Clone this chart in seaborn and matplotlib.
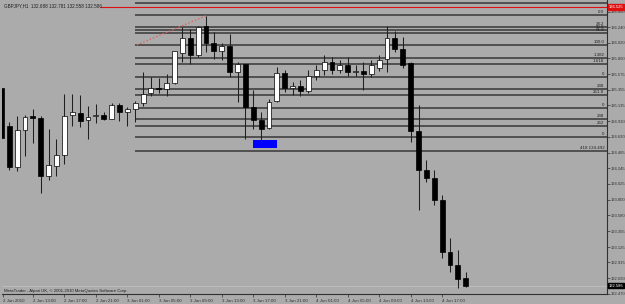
import numpy as np
import pandas as pd
import matplotlib
matplotlib.use("Agg")
import matplotlib.pyplot as plt
import matplotlib.transforms as mtransforms
import seaborn as sns

# ---------------- data ----------------
title_text = "GBPJPY,H1  132.688 132.781 132.558 132.586"
credit_text = "MetaTrader - Alpari UK, \u00a9 2001-2010 MetaQuotes Software Corp."
start_time = "2010-06-02 09:00"

opens = [135.382, 134.845, 134.262, 134.779, 134.977, 134.954, 134.129, 134.280, 134.432, 134.997,
         135.025, 134.926, 134.990, 135.001, 134.940, 135.138, 135.047, 135.081, 135.175, 135.307,
         135.386, 135.364, 135.448, 135.881, 136.084, 135.848, 136.258, 136.022, 135.909, 135.975,
         135.612, 135.717, 135.118, 134.930, 134.817, 135.203, 135.594, 135.382, 135.410, 135.340,
         135.552, 135.636, 135.749, 135.636, 135.707, 135.608, 135.622, 135.580, 135.665, 135.787,
         136.084, 135.933, 135.731, 134.765, 134.224, 134.111, 133.800, 133.066, 132.882, 132.688]
highs = [135.450, 134.906, 134.977, 135.001, 135.081, 134.987, 134.799, 134.658, 135.297, 135.297,
         135.283, 135.128, 135.156, 135.039, 135.175, 135.175, 135.110, 135.203, 135.612, 135.542,
         135.528, 135.580, 135.910, 136.239, 136.211, 136.252, 136.403, 136.169, 136.013, 136.141,
         135.745, 135.720, 135.354, 135.047, 135.227, 135.683, 135.636, 135.467, 135.495, 135.636,
         135.707, 135.848, 135.820, 135.778, 135.820, 135.707, 135.749, 135.778, 135.848, 136.258,
         136.187, 136.098, 135.754, 135.142, 134.365, 134.224, 133.871, 133.264, 133.094, 132.781]
lows = [134.620, 134.214, 134.200, 134.412, 134.601, 133.895, 134.083, 134.129, 134.309, 134.836,
        134.827, 134.658, 134.884, 134.930, 134.935, 134.912, 134.836, 134.902, 135.128, 135.273,
        135.316, 135.269, 135.439, 135.745, 135.721, 135.816, 135.895, 135.792, 135.778, 135.542,
        135.180, 134.658, 134.799, 134.553, 134.799, 135.189, 135.326, 135.283, 135.269, 135.311,
        135.495, 135.566, 135.580, 135.594, 135.552, 135.552, 135.354, 135.537, 135.622, 135.608,
        135.895, 135.660, 134.619, 133.659, 134.054, 133.730, 132.981, 132.783, 132.557, 132.558]
closes = [134.676, 134.256, 134.779, 134.963, 134.949, 134.129, 134.285, 134.432, 134.977, 135.039,
          134.920, 134.968, 134.995, 134.940, 135.138, 135.043, 135.086, 135.166, 135.297, 135.386,
          135.372, 135.448, 135.905, 136.084, 135.848, 136.248, 136.022, 135.905, 135.975, 135.612,
          135.717, 135.110, 134.930, 134.807, 135.189, 135.598, 135.382, 135.410, 135.340, 135.552,
          135.636, 135.749, 135.636, 135.707, 135.608, 135.622, 135.580, 135.707, 135.778, 136.084,
          135.937, 135.711, 134.771, 134.224, 134.111, 133.800, 133.066, 132.882, 132.684, 132.586]

fib_levels = [136.587, 136.413, 136.248, 136.201, 136.158, 135.985, 135.810, 135.717,
              135.538, 135.368, 135.284, 135.104, 134.940, 134.838, 134.684, 134.492]
fib_labels = ["", "0.0", "38.2", "50.0", "61.8", "100.0", "1.382", "1.618",
              "0", "238", "261.8", "0", "238", "262", "0", "418 134.492"]

ytick_values = [136.460, 136.240, 136.020, 135.800, 135.575, 135.355, 135.135, 134.910,
                134.690, 134.465, 134.245, 134.025, 133.800, 133.580, 133.355, 133.125,
                132.915, 132.690, 132.470]

first_date_label = "2 Jun 2010"
xtick_times = ["2010-06-02 13:00", "2010-06-02 17:00", "2010-06-02 21:00", "2010-06-03 01:00",
               "2010-06-03 05:00", "2010-06-03 09:00", "2010-06-03 13:00", "2010-06-03 17:00",
               "2010-06-03 21:00", "2010-06-04 01:00", "2010-06-04 05:00", "2010-06-04 09:00",
               "2010-06-04 13:00", "2010-06-04 17:00"]
xtick_labels = ["2 Jun 13:00", "2 Jun 17:00", "2 Jun 21:00", "3 Jun 01:00", "3 Jun 05:00",
                "3 Jun 09:00", "3 Jun 13:00", "3 Jun 17:00", "3 Jun 21:00", "4 Jun 01:00",
                "4 Jun 05:00", "4 Jun 09:00", "4 Jun 13:00", "4 Jun 17:00"]

red_line_level = 136.525
bid_price = 132.586
trend_prices = [135.989, 136.403]
box_prices = [134.530, 134.648]

# ---------------- style ----------------
BG = "#ABABAB"
sns.set_theme(style="ticks", rc={"axes.facecolor": BG, "figure.facecolor": BG,
                                 "savefig.facecolor": BG})
plt.rcParams["font.family"] = ["Liberation Sans", "DejaVu Sans"]

times = pd.date_range(start_time, periods=len(opens), freq="h")
df = pd.DataFrame({"time": times, "open": opens, "high": highs, "low": lows, "close": closes})
df["pos"] = np.arange(len(df))
df["bull"] = df["close"] >= df["open"]
time_to_pos = dict(zip(df["time"], df["pos"]))

fig = plt.figure(figsize=(6.25, 3.04), dpi=100)
ax = fig.add_axes([2 / 625, 10 / 304, 605 / 625, 294 / 304])

x_left, x_right = 0.076, 76.95
ax.set_xlim(x_left, x_right)
ax.set_ylim(132.466, 136.625)

# bid line
ax.axhline(bid_price, color="#C4C4C4", lw=0.5, zorder=1)

# fib / horizontal lines
for lvl, lab in zip(fib_levels, fib_labels):
    ax.hlines(lvl, 17.0, x_right, color="#383838", lw=1.1, zorder=2)
    if lab:
        ax.text(76.6, lvl + 0.012, lab, ha="right", va="bottom", fontsize=3.2,
                color="#202020", zorder=5)
ax.hlines(red_line_level, 12.5, x_right, color="#E01010", lw=0.8, zorder=2)

# trend line (dotted red)
sns.lineplot(x=[17.2, 26.0], y=trend_prices, ax=ax, color="#E06060", lw=0.9,
             linestyle=(0, (1.2, 1.6)), zorder=3)

# blue box
ax.fill_between([32.0, 35.0], box_prices[0], box_prices[1], color="#0000FF", lw=0, zorder=3)

# candles
ax.vlines(df["pos"], df["low"], df["high"], color="#202020", lw=0.75, zorder=4)
body_bottom = np.minimum(df["open"], df["close"])
body_h = np.abs(df["close"] - df["open"])
ax.bar(df["pos"], body_h, bottom=body_bottom, width=0.62,
       color=np.where(df["bull"], "white", "black"), edgecolor="black", lw=0.5, zorder=5)

# axes styling
for side in ["left", "top"]:
    ax.spines[side].set_visible(False)
for side in ["right", "bottom"]:
    ax.spines[side].set_color("#303030")
    ax.spines[side].set_linewidth(0.8)

ax.yaxis.tick_right()
ax.set_yticks(ytick_values)
ax.set_yticklabels([f"{v:.3f}" for v in ytick_values])
ax.tick_params(axis="y", length=2, width=0.5, pad=1, labelsize=3.0, colors="#303030")

xt = [x_left + 0.15] + [time_to_pos[pd.Timestamp(t)] for t in xtick_times]
ax.set_xticks(xt)
ax.set_xticklabels([first_date_label] + xtick_labels, ha="left")
ax.tick_params(axis="x", length=2.5, width=0.5, pad=1, labelsize=3.2, colors="#303030")
for lbl in ax.get_xticklabels():
    lbl.set_horizontalalignment("left")
ax.set_xlabel("")
ax.set_ylabel("")
ax.grid(False)

# price boxes on the right axis
blend = mtransforms.blended_transform_factory(ax.transAxes, ax.transData)
ax.text(1.003, red_line_level, f"{red_line_level:.3f}", transform=blend, ha="left", va="center",
        fontsize=3.0, color="white", clip_on=False, zorder=10,
        bbox=dict(boxstyle="square,pad=0.15", fc="#E01010", ec="#E01010"))
ax.text(1.003, bid_price, f"{bid_price:.3f}", transform=blend, ha="left", va="center",
        fontsize=3.0, color="white", clip_on=False, zorder=10,
        bbox=dict(boxstyle="square,pad=0.15", fc="black", ec="black"))

# texts
fig.text(4 / 625, 1 - 5.5 / 304, title_text, ha="left", va="center", fontsize=3.3, color="#202020")
ax.text(1.5 / 605, 2.7 / 294, credit_text, transform=ax.transAxes, ha="left", va="center",
        fontsize=3.1, color="#202020")

fig.savefig("out.png", dpi=100)
